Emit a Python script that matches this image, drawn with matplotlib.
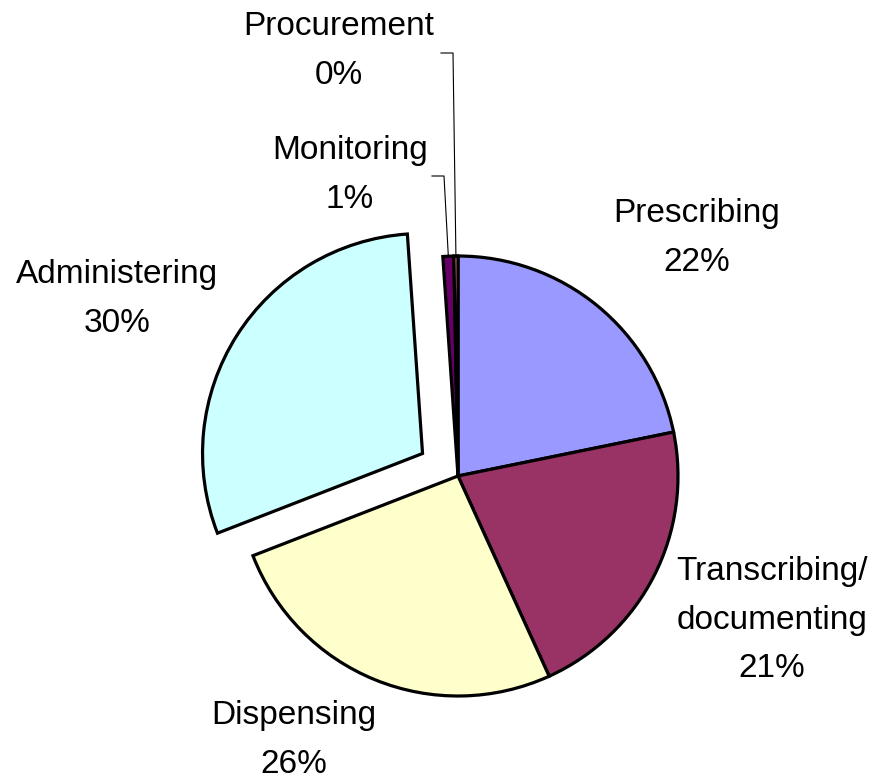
import matplotlib
matplotlib.use("Agg")
import matplotlib.pyplot as plt
import numpy as np

categories = ["Prescribing", "Transcribing/\ndocumenting", "Dispensing",
              "Administering", "Monitoring", "Procurement"]
values = [21.8, 21.4, 25.9, 29.8, 0.8, 0.3]
pct_labels = ["22%", "21%", "26%", "30%", "1%", "0%"]
colors = ["#9999FF", "#993366", "#FFFFCC", "#CCFFFF", "#660066", "#FF8080"]

W, H = 879, 779
fig = plt.figure(figsize=(W / 100, H / 100), dpi=100)
ax = fig.add_axes([0, 0, 1, 1])

def Y(ypix):
    return H - ypix

cx, cy, R = 458, Y(476), 220
explode = [0, 0, 0, 42, 0, 0]

wedges, _ = ax.pie(values, colors=colors, startangle=90, counterclock=False,
                   center=(cx, cy), radius=R, explode=explode,
                   wedgeprops=dict(edgecolor="black", linewidth=2.3),
                   frame=True)
ax.set_xlim(0, W)
ax.set_ylim(0, H)
ax.set_aspect("equal")
ax.axis("off")

font = dict(family=["Liberation Sans", "DejaVu Sans"], fontsize=24)
label_pos = {
    0: (697, 238),
    1: (772, 620),
    2: (294, 740),
    3: (117, 299),
    4: (350, 175),
    5: (339, 51),
}
for i, (cat, pct) in enumerate(zip(categories, pct_labels)):
    x, y = label_pos[i]
    ax.text(x, Y(y), f"{cat}\n{pct}", ha="center", va="center",
            multialignment="center", linespacing=1.72, **font)

# leader lines for the two tiny slices
leaders = {4: (432, 176), 5: (441, 53)}
for i, (lx, ly) in leaders.items():
    w = wedges[i]
    theta = np.deg2rad(0.5 * (w.theta1 + w.theta2))
    px = w.center[0] + R * np.cos(theta)
    py = w.center[1] + R * np.sin(theta)
    ax.plot([lx, lx + 12, px], [Y(ly), Y(ly), py], color="black", lw=0.8)

fig.savefig("out.png", dpi=100)
